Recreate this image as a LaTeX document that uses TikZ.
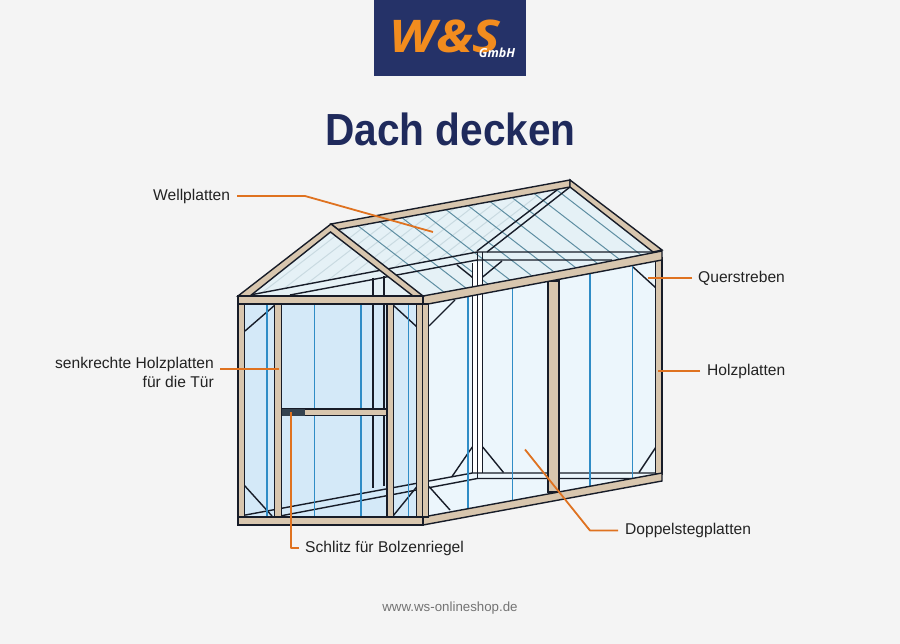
\documentclass[tikz,border=0pt]{standalone}
\usepackage{fontspec}
\setmainfont{Liberation Sans}
\newfontfamily\logofont{Open Sans}
\definecolor{bgc}{HTML}{F4F4F4}
\definecolor{navy}{HTML}{253268}
\definecolor{titlec}{HTML}{1F2A5C}
\definecolor{orangel}{HTML}{DF7220}
\definecolor{logoor}{HTML}{F28C1E}
\definecolor{tan}{HTML}{D8C6AE}
\definecolor{ink}{HTML}{171C28}
\definecolor{glassroof}{HTML}{E5F1F6}
\definecolor{glassside}{HTML}{ECF6FC}
\definecolor{glassfront}{HTML}{D4E9F8}
\definecolor{blueline}{HTML}{2F8CC6}
\definecolor{roofline}{HTML}{5E8EA2}
\definecolor{paleline}{HTML}{C9DAE1}
\definecolor{slotc}{HTML}{34424F}
\definecolor{textc}{HTML}{222222}
\tikzset{
  timber/.style={fill=tan,draw=ink,line width=1.4pt,line join=miter},
  edge/.style={draw=ink,line width=1.4pt},
  panel/.style={draw=blueline,line width=1.4pt},
  rib/.style={draw=roofline,line width=1pt},
  paleRib/.style={draw=paleline,line width=1pt},
  leader/.style={draw=orangel,line width=1.8pt,line join=round},
  lbl/.style={font=\fontsize{15.6}{19}\selectfont,text=textc,inner sep=0pt},
}
\begin{document}
\begin{tikzpicture}[x=1pt,y=-1pt]
\useasboundingbox (0,0) rectangle (900,644);
\fill[bgc] (0,0) rectangle (900,644);
% logo
\node[fill=navy,minimum width=152pt,minimum height=76pt,inner sep=0pt,anchor=north west] (logo) at (374,0) {};
\node[anchor=center,inner sep=0pt,text=logoor,xscale=1.16] (logotext) at (445,36) {\logofont\fontsize{45}{50}\selectfont\bfseries\itshape W\&S};
\node[anchor=center,inner sep=0pt,text=white] (logogmbh) at (497,53) {\logofont\fontsize{12.5}{13}\selectfont\bfseries\itshape GmbH};
% title
\node[inner sep=0pt,text=titlec,xscale=0.903] (title) at (450.5,129) {\fontsize{45}{50}\selectfont\bfseries Dach decken};
% glass
\fill[glassroof] (331,224) -- (570,180) -- (662,251) -- (423,296) -- (238,296) -- cycle;
\fill[glassside] (423,296) -- (662,251) -- (662,473) -- (423,517) -- cycle;
\fill[glassfront] (238,304) rectangle (423,517);
% pale ribs (far slope)
\begin{scope}
\clip (331,224) -- (570,180) -- (662,251) -- (423,296) -- (238,296) -- cycle;
\foreach \s in {262,284,...,470}{
  \pgfmathsetmacro{\ya}{295-0.189*(\s-250)}
  \draw[paleRib] (\s,\ya) -- ++(85,-65.6);
}
% near slope ribs
\foreach \s in {353,375,...,553}{
  \pgfmathsetmacro{\yb}{224-0.184*(\s-331)+2}
  \draw[rib] (\s,\yb) -- ++(120,92.6);
}
\end{scope}
% back eaves and gable lines
\draw[edge] (250,295) -- (477,252) -- (653,252);
\draw[edge] (290,295) -- (477,260) -- (612,260);
\draw[edge] (570,187) -- (487,252);
\draw[edge] (557,190) -- (477,251);
% back posts
\fill[white] (472,262) rectangle (483,473);
\draw[edge] (472.3,263) -- (472.3,473);
\draw[edge] (477.3,252) -- (477.3,478);
\draw[edge] (482.7,252) -- (482.7,473);
\draw[edge] (373,278) -- (373,488);
\draw[edge] (384,276) -- (384,486);
% floor lines
\draw[edge] (240,516) -- (472.3,473) -- (657,473);
\draw[edge] (280,516) -- (477.3,478.5) -- (642,478.5);
% braces
\draw[edge] (245,331) -- (275,305);
\draw[edge] (393,305) -- (417,327);
\draw[edge] (429,326) -- (455,300);
\draw[edge] (633,267) -- (656,288);
\draw[edge] (457,265) -- (472.3,277.3);
\draw[edge] (482.7,277) -- (502,261);
\draw[edge] (244,485) -- (272,516);
\draw[edge] (393,516) -- (417,486.5);
\draw[edge] (429,486.5) -- (450,510);
\draw[edge] (451.7,477) -- (472.3,447);
\draw[edge] (482.7,447) -- (503.5,472.5);
\draw[edge] (639,472.5) -- (656,447);
% panel joints
\foreach \x in {267,314.5,361,408.5}{\draw[panel] (\x,304) -- (\x,517);}
\draw[panel] (468,296) -- (468,508);
\draw[panel] (512.7,288) -- (512.7,500);
\draw[panel] (590,272) -- (590,486);
\draw[panel] (632.3,264) -- (632.3,478);
% side frame
\draw[timber] (548,281) rectangle (559,492);
\draw[timber] (655.5,258) rectangle (662,474);
\draw[timber] (423,296) -- (570,269) -- (662,251) -- (662,260) -- (428,304) -- (423,304) -- cycle;
\draw[timber] (423,517) -- (662,473) -- (662,481) -- (423,525) -- cycle;
\draw[timber] (422.7,304) rectangle (428.7,517);
% ridge and far rafter
\draw[timber] (331,224) -- (570,180) -- (570,187) -- (338,229.5) -- cycle;
\draw[timber] (570,180) -- (662,250) -- (653,252) -- (570,187) -- cycle;
% front frame
\draw[timber] (238,304) rectangle (244.7,517);
\draw[timber] (274.5,304) rectangle (281.5,517);
\draw[timber] (387,304) rectangle (393.5,517);
\draw[timber] (416.5,304) rectangle (422.7,517);
\draw[timber] (281.5,409) rectangle (387,415.3);
\fill[slotc] (281.5,408.5) rectangle (305,415.8);
\draw[timber] (238,296) -- (331,224) -- (423,296) -- (413,296) -- (330.5,232) -- (250,296) -- cycle;
\draw[timber] (238,296) rectangle (423,304);
\draw[timber] (238,517) rectangle (423,525);
% labels
\node[lbl,anchor=west] (wellplatten) at (153,196.7) {Wellplatten};
\node[lbl,anchor=west] (querstreben) at (698,278.7) {Querstreben};
\node[lbl,anchor=west] (holzplatten) at (707,371) {Holzplatten};
\node[lbl,anchor=east,align=right] (tuer) at (214,372) {senkrechte Holzplatten\\für die Tür};
\node[lbl,anchor=west] (schlitz) at (305,548) {Schlitz für Bolzenriegel};
\node[lbl,anchor=west] (doppel) at (625,530.5) {Doppelstegplatten};
\node[inner sep=0pt,text=black!55,font=\fontsize{13.3}{16}\selectfont] (web) at (450,608) {www.ws-onlineshop.de};
% leaders
\coordinate (wellStart) at (237,196);
\coordinate (wellEnd) at (433,232);
\coordinate (wellBend) at (305,196);
\coordinate (querStart) at (692,278);
\coordinate (querEnd) at (648,278);
\coordinate (holzStart) at (700,371);
\coordinate (holzEnd) at (658,371);
\coordinate (tuerEnd) at (279,369);
\coordinate (tuerStart) at (220,369);
\coordinate (schlitzStart) at (299,548);
\coordinate (schlitzEnd) at (291,412);
\coordinate (schlitzBend) at (291,548);
\coordinate (doppelStart) at (618,530.5);
\coordinate (doppelEnd) at (525,449.5);
\coordinate (doppelBend) at (590,530.5);
\draw[leader] (wellStart) -- (wellBend) -- (wellEnd);
\draw[leader] (querStart) -- (querEnd);
\draw[leader] (holzStart) -- (holzEnd);
\draw[leader] (tuerStart) -- (tuerEnd);
\draw[leader] (schlitzStart) -- (schlitzBend) -- (schlitzEnd);
\draw[leader] (doppelStart) -- (doppelBend) -- (doppelEnd);
\end{tikzpicture}
\end{document}
